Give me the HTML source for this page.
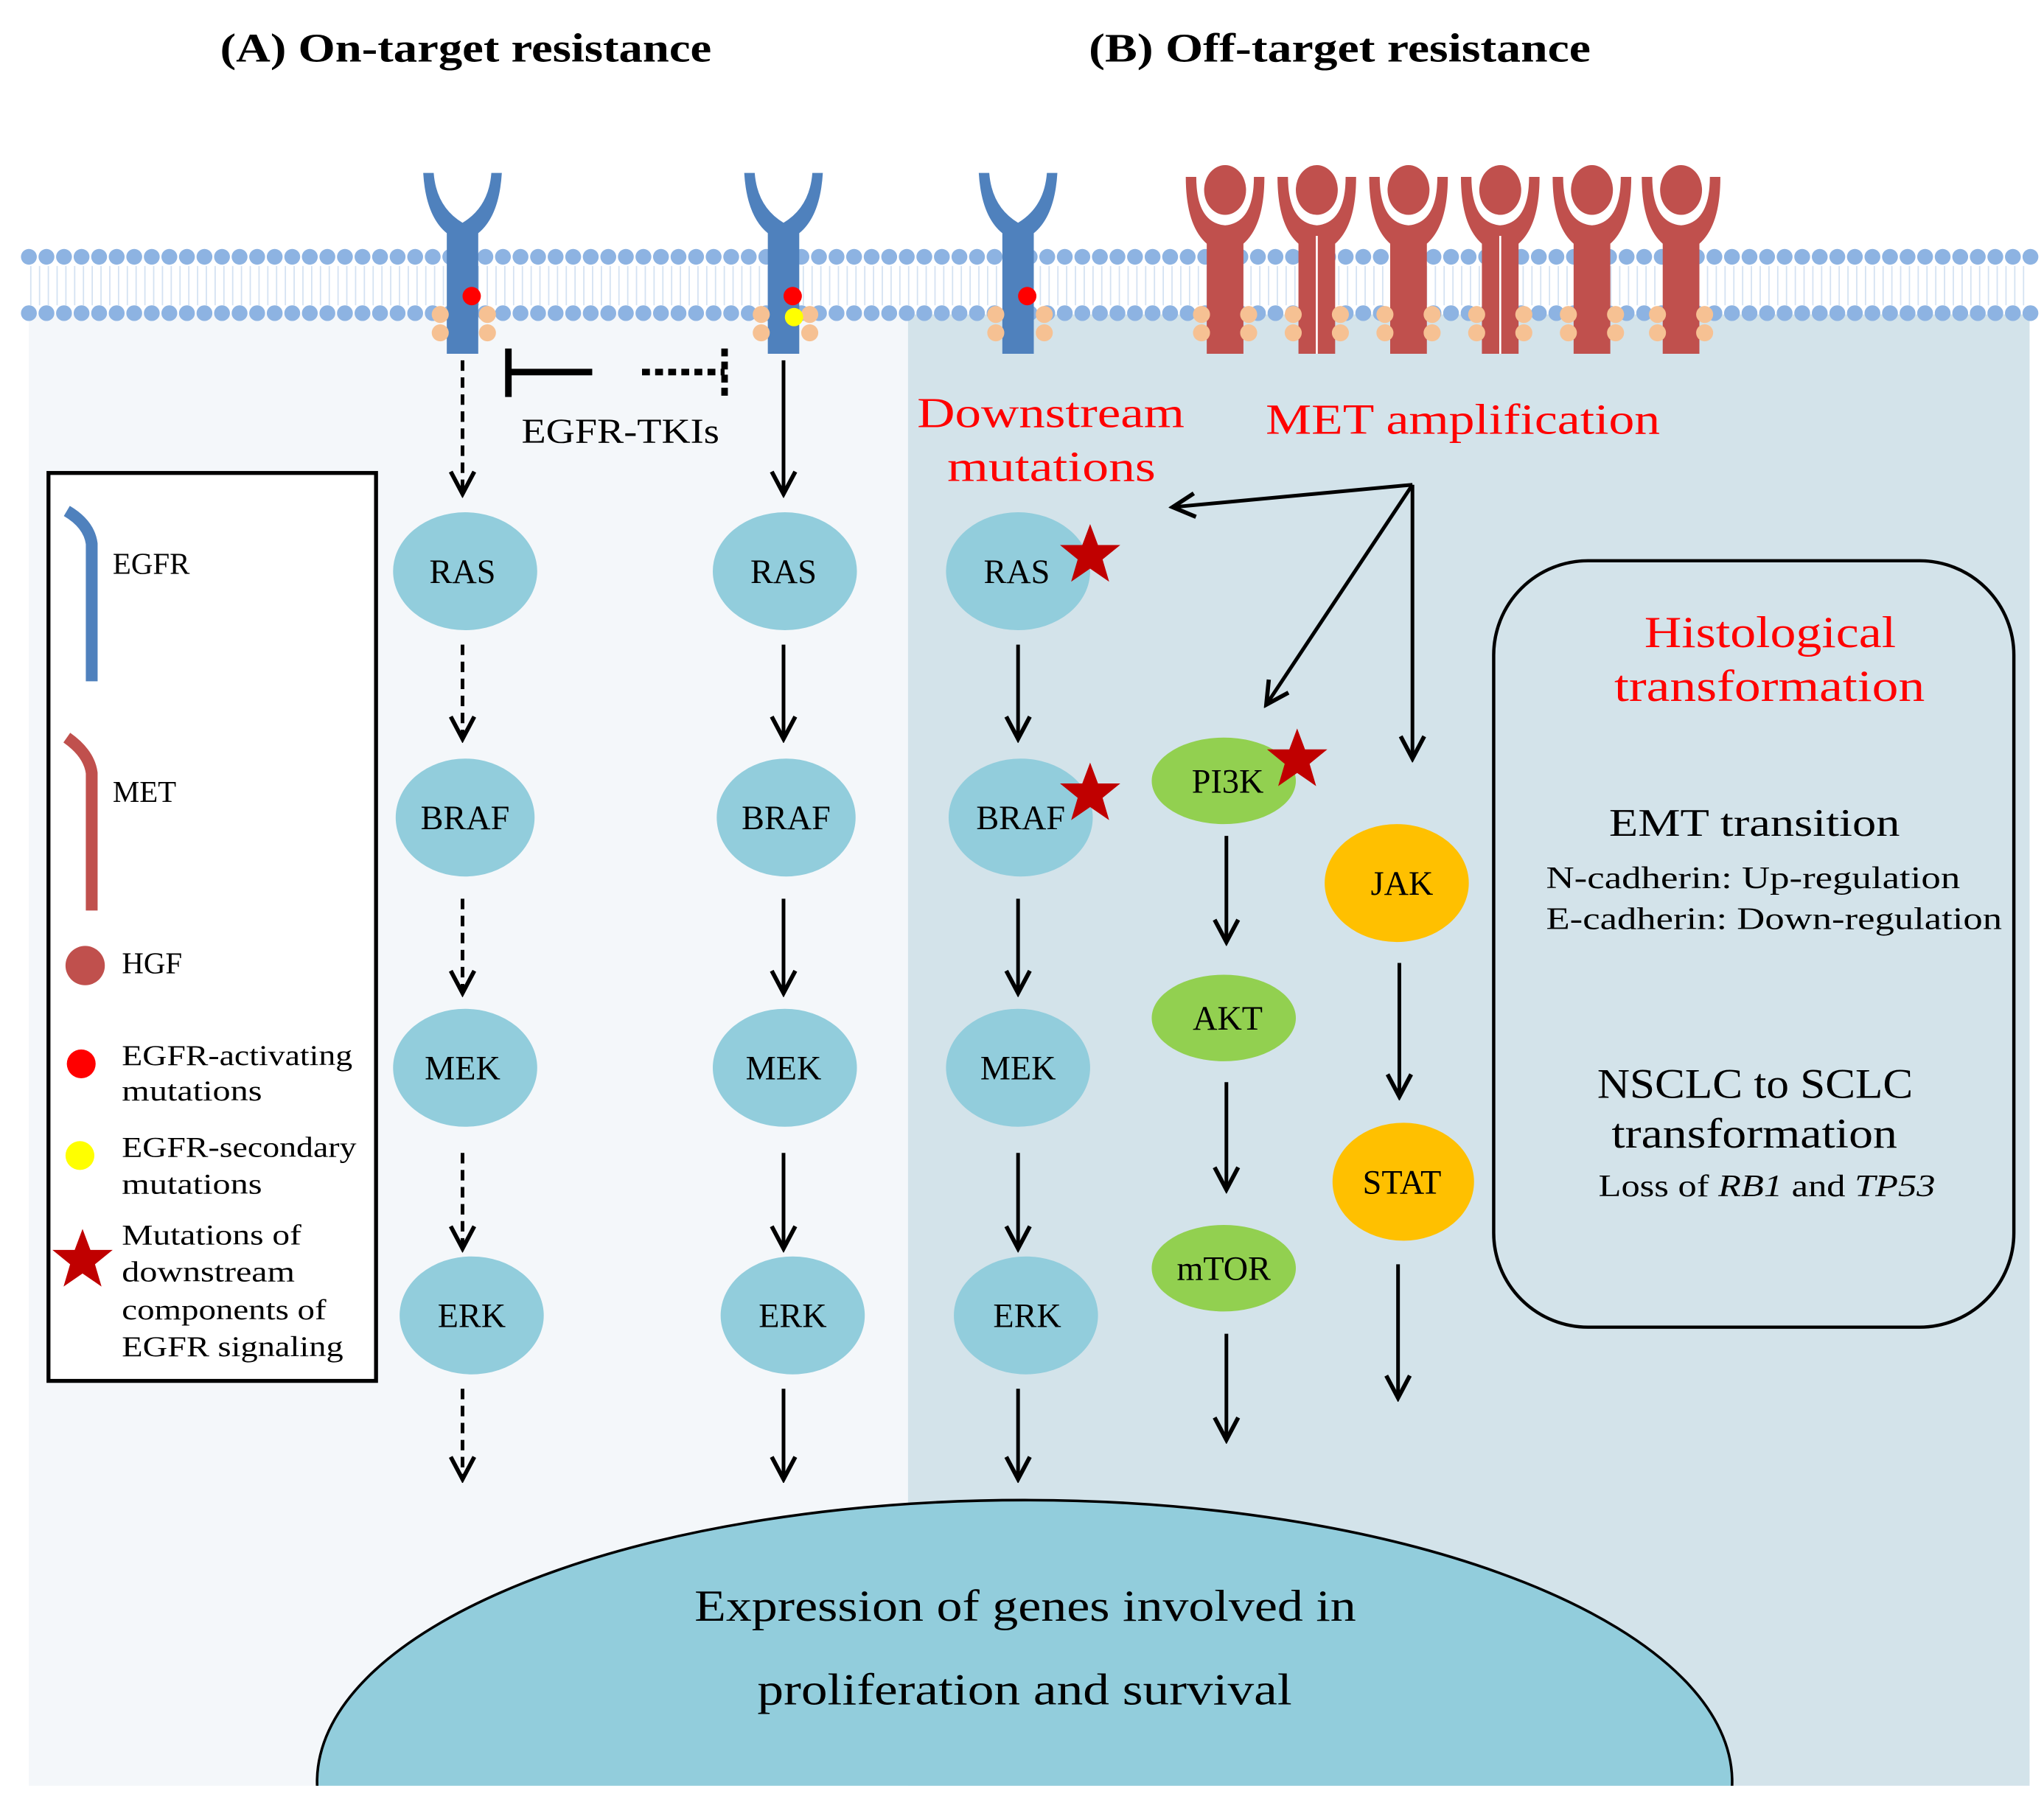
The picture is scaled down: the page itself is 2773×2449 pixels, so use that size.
<!DOCTYPE html>
<html><head><meta charset="utf-8"><style>
html,body{margin:0;padding:0;background:#fff;overflow:hidden;width:2773px;height:2449px;}
svg{display:block;}
text{font-family:"Liberation Serif",serif;}
</style></head><body>
<svg width="2773" height="2449" viewBox="0 0 1560 1377.7" xmlns="http://www.w3.org/2000/svg">
<defs>
<marker id="ah2" markerWidth="22" markerHeight="22" refX="18" refY="11" orient="auto" markerUnits="userSpaceOnUse">
<path d="M2,2 L19,11 L2,20" fill="none" stroke="#000" stroke-width="3.2"/>
</marker>
<clipPath id="clipbot"><rect x="0" y="0" width="1560" height="1363"/></clipPath>
<g id="star"><polygon points="0,-24 6,-8 23,-8 9.5,3 14.5,20 0,10 -14.5,20 -9.5,3 -23,-8 -6,-8" fill="#c00000"/></g>
</defs>

<rect x="22" y="240" width="671" height="1123" fill="#f4f7fa"/>
<rect x="693" y="240" width="856" height="1123" fill="#d3e3ea"/>

<text x="168" y="47" font-size="31" font-weight="bold" textLength="375" lengthAdjust="spacingAndGlyphs">(A) On-target resistance</text>
<text x="831" y="47" font-size="31" font-weight="bold" textLength="383" lengthAdjust="spacingAndGlyphs">(B)  Off-target resistance</text>

<!-- membrane -->
<line x1="22" y1="196" x2="1550" y2="196" stroke="#8db3e2" stroke-width="12" stroke-dasharray="0.1 13.3" stroke-linecap="round"/>
<line x1="22" y1="239" x2="1550" y2="239" stroke="#8db3e2" stroke-width="12" stroke-dasharray="0.1 13.3" stroke-linecap="round"/>
<line x1="20" y1="218" x2="1550" y2="218" stroke="#b9cfea" stroke-width="30" stroke-dasharray="1 5.7" stroke-dashoffset="-3" opacity="0.6"/>

<!-- EGFR receptors -->
<g fill="#4f81bd">
<g transform="translate(353,0)"><path d="M-30,132 L-22,132 Q-20,158 0,170 Q20,158 22,132 L30,132 Q28,165 12,178 L12,270 L-12,270 L-12,178 Q-28,165 -30,132Z"/></g>
<g transform="translate(598,0)"><path d="M-30,132 L-22,132 Q-20,158 0,170 Q20,158 22,132 L30,132 Q28,165 12,178 L12,270 L-12,270 L-12,178 Q-28,165 -30,132Z"/></g>
<g transform="translate(777,0)"><path d="M-30,132 L-22,132 Q-20,158 0,170 Q20,158 22,132 L30,132 Q28,165 12,178 L12,270 L-12,270 L-12,178 Q-28,165 -30,132Z"/></g>
</g>
<!-- MET receptors -->
<g fill="#c0504d">
<g transform="translate(935,0)"><ellipse cx="0" cy="145" rx="16" ry="19"/><path d="M-30,135 L-22,135 Q-22,170 0,172 Q22,170 22,135 L30,135 Q30,172 14,186 L14,270 L-14,270 L-14,186 Q-30,172 -30,135Z"/></g>
<g transform="translate(1005,0)"><ellipse cx="0" cy="145" rx="16" ry="19"/><path d="M-30,135 L-22,135 Q-22,170 0,172 Q22,170 22,135 L30,135 Q30,172 14,186 L14,270 L-14,270 L-14,186 Q-30,172 -30,135Z"/><line x1="0" y1="180" x2="0" y2="270" stroke="#fff" stroke-width="1.5"/></g>
<g transform="translate(1075,0)"><ellipse cx="0" cy="145" rx="16" ry="19"/><path d="M-30,135 L-22,135 Q-22,170 0,172 Q22,170 22,135 L30,135 Q30,172 14,186 L14,270 L-14,270 L-14,186 Q-30,172 -30,135Z"/></g>
<g transform="translate(1145,0)"><ellipse cx="0" cy="145" rx="16" ry="19"/><path d="M-30,135 L-22,135 Q-22,170 0,172 Q22,170 22,135 L30,135 Q30,172 14,186 L14,270 L-14,270 L-14,186 Q-30,172 -30,135Z"/><line x1="0" y1="180" x2="0" y2="270" stroke="#fff" stroke-width="1.5"/></g>
<g transform="translate(1215,0)"><ellipse cx="0" cy="145" rx="16" ry="19"/><path d="M-30,135 L-22,135 Q-22,170 0,172 Q22,170 22,135 L30,135 Q30,172 14,186 L14,270 L-14,270 L-14,186 Q-30,172 -30,135Z"/></g>
<g transform="translate(1283,0)"><ellipse cx="0" cy="145" rx="16" ry="19"/><path d="M-30,135 L-22,135 Q-22,170 0,172 Q22,170 22,135 L30,135 Q30,172 14,186 L14,270 L-14,270 L-14,186 Q-30,172 -30,135Z"/></g>
</g>

<!-- P circles -->
<g fill="#f6c193">
<circle cx="336" cy="240" r="6.5"/><circle cx="336" cy="254" r="6.5"/><circle cx="372" cy="240" r="6.5"/><circle cx="372" cy="254" r="6.5"/>
<circle cx="581" cy="240" r="6.5"/><circle cx="581" cy="254" r="6.5"/><circle cx="618" cy="240" r="6.5"/><circle cx="618" cy="254" r="6.5"/>
<circle cx="760" cy="240" r="6.5"/><circle cx="760" cy="254" r="6.5"/><circle cx="797" cy="240" r="6.5"/><circle cx="797" cy="254" r="6.5"/>
<circle cx="917" cy="240" r="6.5"/><circle cx="917" cy="254" r="6.5"/><circle cx="953" cy="240" r="6.5"/><circle cx="953" cy="254" r="6.5"/>
<circle cx="987" cy="240" r="6.5"/><circle cx="987" cy="254" r="6.5"/><circle cx="1023" cy="240" r="6.5"/><circle cx="1023" cy="254" r="6.5"/>
<circle cx="1057" cy="240" r="6.5"/><circle cx="1057" cy="254" r="6.5"/><circle cx="1093" cy="240" r="6.5"/><circle cx="1093" cy="254" r="6.5"/>
<circle cx="1127" cy="240" r="6.5"/><circle cx="1127" cy="254" r="6.5"/><circle cx="1163" cy="240" r="6.5"/><circle cx="1163" cy="254" r="6.5"/>
<circle cx="1197" cy="240" r="6.5"/><circle cx="1197" cy="254" r="6.5"/><circle cx="1233" cy="240" r="6.5"/><circle cx="1233" cy="254" r="6.5"/>
<circle cx="1265" cy="240" r="6.5"/><circle cx="1265" cy="254" r="6.5"/><circle cx="1301" cy="240" r="6.5"/><circle cx="1301" cy="254" r="6.5"/>
</g>
<circle cx="360" cy="226" r="7" fill="#ff0000"/>
<circle cx="605" cy="226" r="7" fill="#ff0000"/>
<circle cx="606" cy="242" r="7" fill="#ffff00"/>
<circle cx="784" cy="226" r="7" fill="#ff0000"/>

<!-- TKI inhibitor -->
<line x1="388" y1="284" x2="452" y2="284" stroke="#000" stroke-width="5"/>
<line x1="388" y1="266" x2="388" y2="303" stroke="#000" stroke-width="5"/>
<line x1="490" y1="284" x2="553" y2="284" stroke="#000" stroke-width="5" stroke-dasharray="6 4"/>
<line x1="553" y1="266" x2="553" y2="303" stroke="#000" stroke-width="5" stroke-dasharray="6 4"/>
<text x="398" y="338" font-size="27" textLength="151" lengthAdjust="spacingAndGlyphs">EGFR-TKIs</text>

<!-- arrows -->
<g stroke="#000" stroke-width="2.8" fill="none" marker-end="url(#ah2)">
<g stroke-dasharray="8 5">
<line x1="353" y1="275" x2="353" y2="376"/>
<line x1="353" y1="492" x2="353" y2="563"/>
<line x1="353" y1="686" x2="353" y2="757"/>
<line x1="353" y1="880" x2="353" y2="952"/>
<line x1="353" y1="1060" x2="353" y2="1128"/>
</g>
<line x1="598" y1="275" x2="598" y2="376"/>
<line x1="598" y1="492" x2="598" y2="563"/>
<line x1="598" y1="686" x2="598" y2="757"/>
<line x1="598" y1="880" x2="598" y2="952"/>
<line x1="598" y1="1060" x2="598" y2="1128"/>
<line x1="777" y1="492" x2="777" y2="563"/>
<line x1="777" y1="686" x2="777" y2="757"/>
<line x1="777" y1="880" x2="777" y2="952"/>
<line x1="777" y1="1060" x2="777" y2="1128"/>
<line x1="936" y1="638" x2="936" y2="718"/>
<line x1="936" y1="826" x2="936" y2="907"/>
<line x1="936" y1="1018" x2="936" y2="1098"/>
<line x1="1068" y1="735" x2="1068" y2="836"/>
<line x1="1067" y1="965" x2="1067" y2="1066"/>
<line x1="1078" y1="370" x2="896" y2="387"/>
<line x1="1078" y1="370" x2="967" y2="537"/>
<line x1="1078" y1="370" x2="1078" y2="578"/>
</g>

<!-- nodes -->
<g fill="#92cddc">
<ellipse cx="355" cy="436" rx="55" ry="45"/><ellipse cx="355" cy="624" rx="53" ry="45"/><ellipse cx="355" cy="815" rx="55" ry="45"/><ellipse cx="360" cy="1004" rx="55" ry="45"/>
<ellipse cx="599" cy="436" rx="55" ry="45"/><ellipse cx="600" cy="624" rx="53" ry="45"/><ellipse cx="599" cy="815" rx="55" ry="45"/><ellipse cx="605" cy="1004" rx="55" ry="45"/>
<ellipse cx="777" cy="436" rx="55" ry="45"/><ellipse cx="779" cy="624" rx="55" ry="45"/><ellipse cx="777" cy="815" rx="55" ry="45"/><ellipse cx="783" cy="1004" rx="55" ry="45"/>
</g>
<g fill="#92d050">
<ellipse cx="934" cy="596" rx="55" ry="33"/><ellipse cx="934" cy="777" rx="55" ry="33"/><ellipse cx="934" cy="968" rx="55" ry="33"/>
</g>
<g fill="#ffc000">
<ellipse cx="1066" cy="674" rx="55" ry="45"/><ellipse cx="1071" cy="902" rx="54" ry="45"/>
</g>
<g font-size="26" text-anchor="middle">
<text x="353" y="445">RAS</text><text x="355" y="633">BRAF</text><text x="353" y="824">MEK</text><text x="360" y="1013">ERK</text>
<text x="598" y="445">RAS</text><text x="600" y="633">BRAF</text><text x="598" y="824">MEK</text><text x="605" y="1013">ERK</text>
<text x="776" y="445">RAS</text><text x="779" y="633">BRAF</text><text x="777" y="824">MEK</text><text x="784" y="1013">ERK</text>
<text x="937" y="605">PI3K</text><text x="937" y="786">AKT</text><text x="934" y="977">mTOR</text>
<text x="1070" y="683">JAK</text><text x="1070" y="911">STAT</text>
</g>
<use href="#star" x="832" y="424"/>
<use href="#star" x="832" y="606"/>
<use href="#star" x="990" y="580"/>

<text x="700" y="326" font-size="33" fill="#ff0000" textLength="204" lengthAdjust="spacingAndGlyphs">Downstream</text>
<text x="723" y="367" font-size="33" fill="#ff0000" textLength="159" lengthAdjust="spacingAndGlyphs">mutations</text>
<text x="966" y="331" font-size="33" fill="#ff0000" textLength="301" lengthAdjust="spacingAndGlyphs">MET amplification</text>

<!-- histology box -->
<rect x="1140" y="428" width="397" height="585" rx="72" fill="none" stroke="#000" stroke-width="2.5"/>
<text x="1255" y="494" font-size="34" fill="#ff0000" textLength="192" lengthAdjust="spacingAndGlyphs">Histological</text>
<text x="1232" y="535" font-size="34" fill="#ff0000" textLength="237" lengthAdjust="spacingAndGlyphs">transformation</text>
<text x="1228" y="638" font-size="30" textLength="222" lengthAdjust="spacingAndGlyphs">EMT transition</text>
<text x="1180" y="678" font-size="24" textLength="316" lengthAdjust="spacingAndGlyphs">N-cadherin: Up-regulation</text>
<text x="1180" y="709" font-size="24" textLength="348" lengthAdjust="spacingAndGlyphs">E-cadherin: Down-regulation</text>
<text x="1219" y="838" font-size="32" textLength="241" lengthAdjust="spacingAndGlyphs">NSCLC to SCLC</text>
<text x="1230" y="876" font-size="32" textLength="218" lengthAdjust="spacingAndGlyphs">transformation</text>
<text x="1220" y="913" font-size="24" textLength="257" lengthAdjust="spacingAndGlyphs">Loss of <tspan font-style="italic">RB1</tspan> and <tspan font-style="italic">TP53</tspan></text>

<!-- nucleus -->
<g clip-path="url(#clipbot)">
<ellipse cx="782" cy="1360" rx="540" ry="215" fill="#92cddc" stroke="#000" stroke-width="2"/>
</g>
<text x="530" y="1237" font-size="34" textLength="505" lengthAdjust="spacingAndGlyphs">Expression of genes involved in</text>
<text x="578" y="1301" font-size="34" textLength="408" lengthAdjust="spacingAndGlyphs">proliferation and survival</text>

<!-- legend -->
<rect x="37" y="361" width="250" height="693" fill="#fff" stroke="#000" stroke-width="3"/>
<path d="M51,390 Q68,400 70,415 L70,520" fill="none" stroke="#4f81bd" stroke-width="9"/>
<text x="86" y="438" font-size="23">EGFR</text>
<path d="M51,563 Q68,575 70,590 L70,695" fill="none" stroke="#c0504d" stroke-width="9"/>
<text x="86" y="612" font-size="23">MET</text>
<circle cx="65" cy="737" r="15" fill="#c0504d"/>
<text x="93" y="743" font-size="23">HGF</text>
<circle cx="62" cy="812" r="11" fill="#ff0000"/>
<text x="93" y="813" font-size="22" textLength="176" lengthAdjust="spacingAndGlyphs">EGFR-activating</text>
<text x="93" y="840" font-size="22" textLength="107" lengthAdjust="spacingAndGlyphs">mutations</text>
<circle cx="61" cy="882" r="11" fill="#ffff00"/>
<text x="93" y="883" font-size="22" textLength="179" lengthAdjust="spacingAndGlyphs">EGFR-secondary</text>
<text x="93" y="911" font-size="22" textLength="107" lengthAdjust="spacingAndGlyphs">mutations</text>
<use href="#star" x="63" y="962"/>
<text x="93" y="950" font-size="22" textLength="137" lengthAdjust="spacingAndGlyphs">Mutations of</text>
<text x="93" y="978" font-size="22" textLength="132" lengthAdjust="spacingAndGlyphs">downstream</text>
<text x="93" y="1007" font-size="22" textLength="156" lengthAdjust="spacingAndGlyphs">components of</text>
<text x="93" y="1035" font-size="22" textLength="169" lengthAdjust="spacingAndGlyphs">EGFR signaling</text>
</svg>
</body></html>
